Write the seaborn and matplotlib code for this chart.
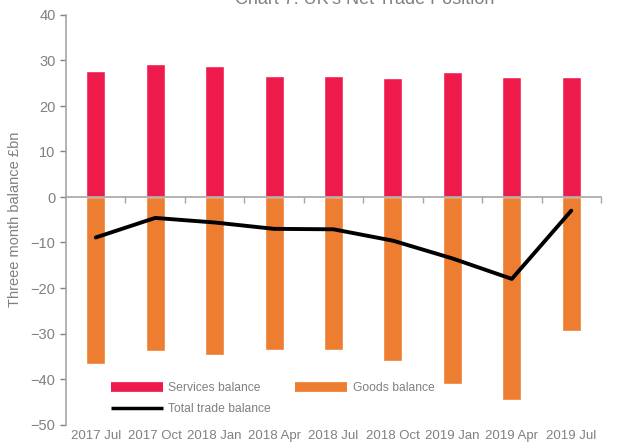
import matplotlib
matplotlib.use("Agg")
import matplotlib.pyplot as plt
from matplotlib.lines import Line2D
import seaborn as sns
import pandas as pd

periods = ["2017 Jul", "2017 Oct", "2018 Jan", "2018 Apr", "2018 Jul",
           "2018 Oct", "2019 Jan", "2019 Apr", "2019 Jul"]
services = [27.6, 29.2, 28.9, 26.5, 26.5, 26.2, 27.5, 26.4, 26.4]
goods = [-36.7, -33.9, -34.7, -33.6, -33.6, -36.0, -41.0, -44.6, -29.5]
total = [-8.9, -4.6, -5.6, -7.0, -7.1, -9.6, -13.5, -18.0, -3.0]

df = pd.DataFrame({"period": periods, "services": services,
                   "goods": goods, "total": total})

sns.set_style("white")
plt.rcParams["font.family"] = ["Liberation Sans", "DejaVu Sans"]

grey = "#808080"
c_serv = "#EE1A4B"
c_goods = "#ED7D31"

fig = plt.figure(figsize=(6.33, 4.48), dpi=100)
ax = fig.add_axes([66 / 633, 23.5 / 448, 535 / 633, (424.5 - 15) / 448])

sns.barplot(data=df, x="period", y="services", color=c_serv, width=0.32,
            saturation=1, ax=ax, order=periods)
sns.barplot(data=df, x="period", y="goods", color=c_goods, width=0.32,
            saturation=1, ax=ax, order=periods)
sns.lineplot(data=df, x="period", y="total", color="black", linewidth=2.8,
             sort=False, ax=ax)

ax.set_ylim(-50, 40)
ax.set_xlim(-0.5, len(periods) - 0.5)
ax.set_yticks(range(-50, 41, 10))
ax.tick_params(axis="y", colors=grey, labelsize=10.5, length=4, width=1,
               direction="out", left=True)
for t in ax.get_yticklabels():
    t.set_color(grey)

# x axis crossing at zero with boundary tick marks
ax.spines["bottom"].set_position(("data", 0))
ax.spines["bottom"].set_color("#A6A6A6")
ax.spines["bottom"].set_linewidth(1.2)
ax.set_xticks(range(len(periods)))
ax.set_xticklabels([])
ax.tick_params(axis="x", which="major", length=0)
ax.set_xticks([i + 0.5 for i in range(len(periods))], minor=True)
ax.tick_params(axis="x", which="minor", length=4, width=1, color="#A6A6A6",
               direction="out", bottom=True)
ax.spines["left"].set_color("#A6A6A6")
ax.spines["left"].set_linewidth(1.2)
ax.spines["top"].set_visible(False)
ax.spines["right"].set_visible(False)

sec = ax.secondary_xaxis(0.0)
sec.set_xticks(range(len(periods)))
sec.set_xticklabels(periods)
sec.tick_params(length=0, labelsize=9.5, colors=grey, pad=4)
sec.spines["bottom"].set_visible(False)

ax.set_xlabel("")
ax.set_ylabel("Threee month balance £bn", color=grey, fontsize=10.5, labelpad=6)

handles = [Line2D([], [], color=c_serv, lw=7, solid_capstyle="butt"),
           Line2D([], [], color="black", lw=2.5, solid_capstyle="butt"),
           Line2D([], [], color=c_goods, lw=7, solid_capstyle="butt")]
labels = ["Services balance", "Total trade balance", "Goods balance"]
leg = ax.legend(handles, labels, ncol=2, loc="upper left",
                bbox_to_anchor=(0.066, 0.127), frameon=False, fontsize=8.7,
                handlelength=4.3, columnspacing=2.0, handletextpad=0.45,
                labelspacing=0.75, labelcolor=grey, borderpad=0.3)

fig.text(365 / 633, 1.0, "Chart 7: UK's Net Trade Position", ha="center",
         va="center", fontsize=13, color=grey)

fig.savefig("out.png", dpi=100)
